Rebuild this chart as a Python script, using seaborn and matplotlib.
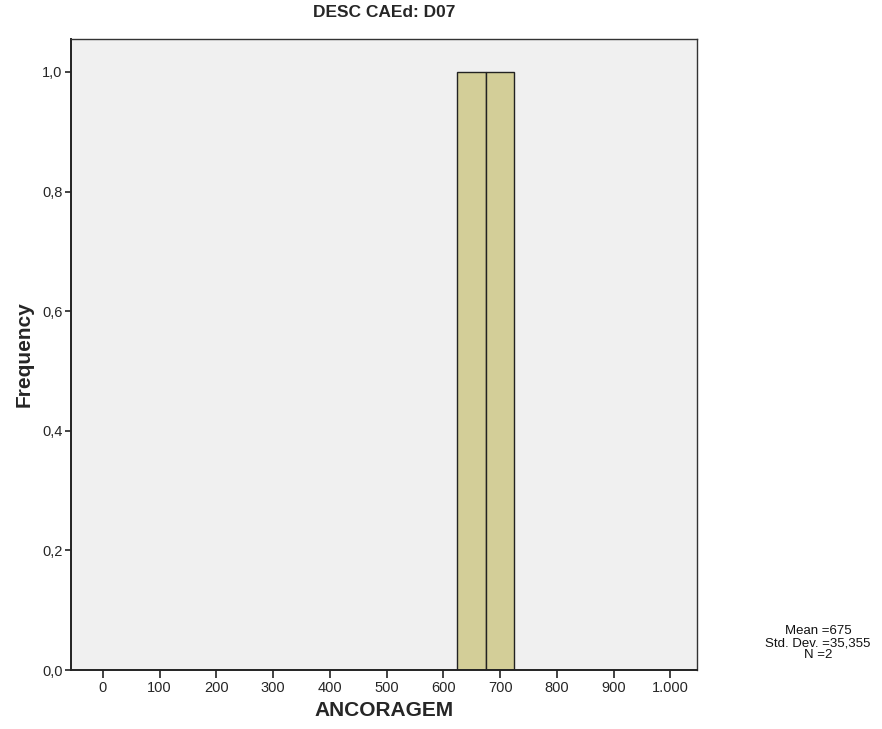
import numpy as np
import pandas as pd
import matplotlib
matplotlib.use("Agg")
import matplotlib.pyplot as plt
from matplotlib.ticker import FuncFormatter
import seaborn as sns

# Observations of ANCORAGEM for group D07
ancoragem = [650, 700]
bin_edges = [625, 675, 725]
x_ticks = [0, 100, 200, 300, 400, 500, 600, 700, 800, 900, 1000]
y_ticks = [0.0, 0.2, 0.4, 0.6, 0.8, 1.0]
title = "DESC CAEd: D07"

sns.set_theme(style="white")
plt.rcParams["font.family"] = ["Liberation Sans Narrow", "Liberation Sans", "DejaVu Sans"]

df = pd.DataFrame({"ANCORAGEM": ancoragem})

fig = plt.figure(figsize=(8.82, 7.29), dpi=100)
ax = fig.add_axes([71 / 882, 59 / 729, 626 / 882, 631 / 729])
ax.set_facecolor("#f0f0f0")

sns.histplot(data=df, x="ANCORAGEM", bins=bin_edges, stat="count",
             color="#d3ce98", edgecolor="#222222", linewidth=1.0,
             alpha=1.0, ax=ax)

ax.set_xlim(-56, 1047)
ax.set_ylim(0, 1.055)
ax.set_xticks(x_ticks)
ax.set_yticks(y_ticks)


def fmt_x(v, _):
    return f"{int(round(v)):,}".replace(",", ".")


def fmt_y(v, _):
    return f"{v:.1f}".replace(".", ",")


ax.xaxis.set_major_formatter(FuncFormatter(fmt_x))
ax.yaxis.set_major_formatter(FuncFormatter(fmt_y))

ax.tick_params(axis="x", which="major", direction="out", length=6, width=1.2,
               color="#222222", labelsize=10.5, pad=2, bottom=True)
ax.tick_params(axis="y", which="major", direction="out", length=4.5, width=1.2,
               color="#222222", labelsize=10.5, pad=1.5, left=True)

for side in ["left", "bottom"]:
    ax.spines[side].set_color("#222222")
    ax.spines[side].set_linewidth(1.4)
for side in ["top", "right"]:
    ax.spines[side].set_color("#333333")
    ax.spines[side].set_linewidth(1.0)

ax.set_xlabel("ANCORAGEM", fontsize=15, fontweight="bold", labelpad=4)
ax.set_ylabel("Frequency", fontsize=15, fontweight="bold", labelpad=6)
ax.set_title(title, fontsize=12.5, fontweight="bold", pad=16)

arr = np.asarray(ancoragem, dtype=float)
std_txt = f"{arr.std(ddof=1):.3f}".replace(".", ",")
stats = f"Mean ={arr.mean():g}\nStd. Dev. ={std_txt}\nN ={arr.size}"
fig.text(818 / 882, 1 - 643 / 729, stats, ha="center", va="center",
         fontsize=9.5, linespacing=0.95, color="#111111")

fig.savefig("out.png", dpi=100, facecolor="white")
